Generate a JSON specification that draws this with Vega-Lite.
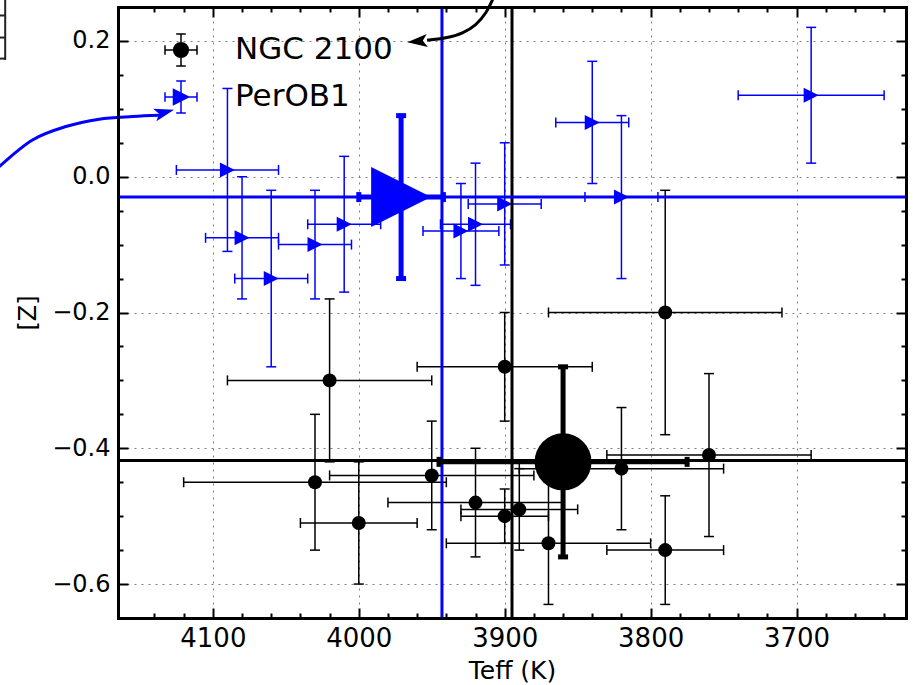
{
  "$schema": "https://vega.github.io/schema/vega-lite/v6.json",
  "width": 788,
  "height": 611,
  "autosize": "none",
  "padding": {"left": 118, "top": 7, "right": 7, "bottom": 67},
  "background": "white",
  "config": {
    "view": {"stroke": null},
    "font": "DejaVu Sans"
  },
  "datasets": {
    "stars": [
      {"set": "NGC 2100", "T": 4020, "Tlo": 3950, "Thi": 4090, "Z": -0.30, "Zlo": -0.42, "Zhi": -0.18},
      {"set": "NGC 2100", "T": 4030, "Tlo": 3940, "Thi": 4120, "Z": -0.45, "Zlo": -0.55, "Zhi": -0.35},
      {"set": "NGC 2100", "T": 4000, "Tlo": 3960, "Thi": 4040, "Z": -0.51, "Zlo": -0.60, "Zhi": -0.42},
      {"set": "NGC 2100", "T": 3950, "Tlo": 3880, "Thi": 4020, "Z": -0.44, "Zlo": -0.52, "Zhi": -0.36},
      {"set": "NGC 2100", "T": 3900, "Tlo": 3840, "Thi": 3960, "Z": -0.28, "Zlo": -0.36, "Zhi": -0.20},
      {"set": "NGC 2100", "T": 3920, "Tlo": 3860, "Thi": 3980, "Z": -0.48, "Zlo": -0.56, "Zhi": -0.40},
      {"set": "NGC 2100", "T": 3900, "Tlo": 3870, "Thi": 3930, "Z": -0.50, "Zlo": -0.54, "Zhi": -0.46},
      {"set": "NGC 2100", "T": 3890, "Tlo": 3850, "Thi": 3930, "Z": -0.49, "Zlo": -0.55, "Zhi": -0.43},
      {"set": "NGC 2100", "T": 3870, "Tlo": 3800, "Thi": 3940, "Z": -0.54, "Zlo": -0.63, "Zhi": -0.45},
      {"set": "NGC 2100", "T": 3820, "Tlo": 3750, "Thi": 3890, "Z": -0.43, "Zlo": -0.52, "Zhi": -0.34},
      {"set": "NGC 2100", "T": 3790, "Tlo": 3710, "Thi": 3870, "Z": -0.20, "Zlo": -0.38, "Zhi": -0.02},
      {"set": "NGC 2100", "T": 3760, "Tlo": 3690, "Thi": 3830, "Z": -0.41, "Zlo": -0.53, "Zhi": -0.29},
      {"set": "NGC 2100", "T": 3790, "Tlo": 3750, "Thi": 3830, "Z": -0.55, "Zlo": -0.63, "Zhi": -0.47},
      {"set": "PerOB1", "T": 4090, "Tlo": 4055, "Thi": 4125, "Z": 0.01, "Zlo": -0.11, "Zhi": 0.13},
      {"set": "PerOB1", "T": 4080, "Tlo": 4055, "Thi": 4105, "Z": -0.09, "Zlo": -0.18, "Zhi": 0.00},
      {"set": "PerOB1", "T": 4060, "Tlo": 4035, "Thi": 4085, "Z": -0.15, "Zlo": -0.28, "Zhi": -0.02},
      {"set": "PerOB1", "T": 4030, "Tlo": 4005, "Thi": 4055, "Z": -0.10, "Zlo": -0.18, "Zhi": -0.02},
      {"set": "PerOB1", "T": 4010, "Tlo": 3985, "Thi": 4035, "Z": -0.07, "Zlo": -0.17, "Zhi": 0.03},
      {"set": "PerOB1", "T": 3930, "Tlo": 3904, "Thi": 3956, "Z": -0.08, "Zlo": -0.15, "Zhi": -0.01},
      {"set": "PerOB1", "T": 3920, "Tlo": 3896, "Thi": 3944, "Z": -0.07, "Zlo": -0.16, "Zhi": 0.02},
      {"set": "PerOB1", "T": 3900, "Tlo": 3875, "Thi": 3925, "Z": -0.04, "Zlo": -0.13, "Zhi": 0.05},
      {"set": "PerOB1", "T": 3840, "Tlo": 3815, "Thi": 3865, "Z": 0.08, "Zlo": -0.01, "Zhi": 0.17},
      {"set": "PerOB1", "T": 3820, "Tlo": 3795, "Thi": 3845, "Z": -0.03, "Zlo": -0.15, "Zhi": 0.09},
      {"set": "PerOB1", "T": 3690, "Tlo": 3640, "Thi": 3740, "Z": 0.12, "Zlo": 0.02, "Zhi": 0.22}
    ],
    "means": [
      {"set": "NGC 2100", "T": 3860, "Tlo": 3775, "Thi": 3945, "Z": -0.42, "Zlo": -0.56, "Zhi": -0.28},
      {"set": "PerOB1", "T": 3971, "Tlo": 3942, "Thi": 4000, "Z": -0.03, "Zlo": -0.15, "Zhi": 0.09}
    ],
    "guides": [
      {"set": "NGC 2100", "T": 3895, "Z": -0.418},
      {"set": "PerOB1", "T": 3943, "Z": -0.03}
    ],
    "arrows": [
      {"set": "PerOB1", "i": 0, "T": 4246.4, "Z": 0.0148},
      {"set": "PerOB1", "i": 1, "T": 4223.6, "Z": 0.0542},
      {"set": "PerOB1", "i": 2, "T": 4200.7, "Z": 0.0739},
      {"set": "PerOB1", "i": 3, "T": 4177.9, "Z": 0.0848},
      {"set": "PerOB1", "i": 4, "T": 4155.1, "Z": 0.0887},
      {"set": "PerOB1", "i": 5, "T": 4136.8, "Z": 0.0905},
      {"set": "NGC 2100", "i": 0, "T": 3907.3, "Z": 0.2656},
      {"set": "NGC 2100", "i": 1, "T": 3913.0, "Z": 0.2415},
      {"set": "NGC 2100", "i": 2, "T": 3919.9, "Z": 0.2242},
      {"set": "NGC 2100", "i": 3, "T": 3929.0, "Z": 0.2120},
      {"set": "NGC 2100", "i": 4, "T": 3940.4, "Z": 0.2046},
      {"set": "NGC 2100", "i": 5, "T": 3953.2, "Z": 0.2010}
    ],
    "heads": [
      {"set": "PerOB1", "T": 4133.2, "Z": 0.0948},
      {"set": "NGC 2100", "T": 3959.9, "Z": 0.1994}
    ],
    "box": [
      {"T": 4242.3, "T2": 4242.3, "Z": 0.2700, "Z2": 0.1720},
      {"T": 4260.0, "T2": 4242.3, "Z": 0.2375, "Z2": 0.2375},
      {"T": 4260.0, "T2": 4242.3, "Z": 0.2050, "Z2": 0.2050},
      {"T": 4260.0, "T2": 4242.3, "Z": 0.1740, "Z2": 0.1740}
    ],
    "keys": [
      {"set": "NGC 2100", "T": 5000, "Z": 5},
      {"set": "PerOB1", "T": 5000, "Z": 5}
    ]
  },
  "resolve": {"axis": {"x": "independent", "y": "independent"}},
  "layer": [
    {
      "data": {"name": "stars"},
      "mark": {"type": "rule", "strokeWidth": 1.5},
      "encoding": {
        "x": {"field": "Tlo", "type": "quantitative",
              "scale": {"domain": [3625, 4165], "reverse": true, "nice": false, "zero": false},
              "axis": {"orient": "bottom", "values": [4100, 4000, 3900, 3800, 3700], "format": "d",
                       "grid": true, "gridColor": "#7f7f7f", "gridDash": [2, 5], "gridWidth": 1,
                       "ticks": false, "domain": false,
                       "labelFont": "DejaVu Sans", "labelFontSize": 26, "labelColor": "#000000", "labelPadding": 7,
                       "title": "Teff (K)", "titleFont": "DejaVu Sans", "titleFontSize": 25, "titleFontWeight": "normal",
                       "titleColor": "#000000", "titleY": 60, "titleBaseline": "alphabetic", "zindex": 0}},
        "x2": {"field": "Thi"},
        "y": {"field": "Z", "type": "quantitative",
              "scale": {"domain": [-0.65, 0.25], "nice": false, "zero": false},
              "axis": {"orient": "left", "values": [-0.6, -0.4, -0.2, 0, 0.2], "format": ".1f",
                       "grid": true, "gridColor": "#7f7f7f", "gridDash": [2, 5], "gridWidth": 1,
                       "ticks": false, "domain": false,
                       "labelFont": "DejaVu Sans", "labelFontSize": 24, "labelColor": "#000000", "labelPadding": 8,
                       "title": "[Z]", "titleFont": "DejaVu Sans", "titleFontSize": 24, "titleFontWeight": "normal",
                       "titleColor": "#000000", "titleX": -83, "titleY": 305.5, "titleBaseline": "alphabetic", "zindex": 0}},
        "color": {"condition": {"test": "datum.set === 'PerOB1'", "value": "#0000ff"}, "value": "#000000"}
      }
    },
    {
      "data": {"name": "stars"},
      "mark": {"type": "rule", "strokeWidth": 1.5},
      "encoding": {
        "x": {"field": "T", "type": "quantitative",
              "scale": {"domain": [3625, 4165], "reverse": true, "nice": false, "zero": false},
              "axis": {"orient": "bottom", "values": [4100, 4000, 3900, 3800, 3700], "grid": false, "labels": false,
                       "ticks": true, "tickSize": -10, "tickWidth": 2, "tickColor": "#000000",
                       "domain": true, "domainColor": "#000000", "domainWidth": 3, "domainCap": "square",
                       "title": null, "zindex": 1}},
        "y": {"field": "Zlo", "type": "quantitative",
              "scale": {"domain": [-0.65, 0.25], "nice": false, "zero": false},
              "axis": {"orient": "left", "values": [-0.6, -0.4, -0.2, 0, 0.2], "grid": false, "labels": false,
                       "ticks": true, "tickSize": -10, "tickWidth": 2, "tickColor": "#000000",
                       "domain": true, "domainColor": "#000000", "domainWidth": 3, "domainCap": "square",
                       "title": null, "zindex": 1}},
        "y2": {"field": "Zhi"},
        "color": {"condition": {"test": "datum.set === 'PerOB1'", "value": "#0000ff"}, "value": "#000000"}
      }
    },
    {
      "data": {"name": "stars"},
      "transform": [{"fold": ["Tlo", "Thi"], "as": ["end", "Tend"]}],
      "mark": {"type": "tick", "orient": "vertical", "size": 10, "thickness": 1.5, "opacity": 1},
      "encoding": {
        "x": {"field": "Tend", "type": "quantitative",
              "scale": {"domain": [3625, 4165], "reverse": true, "nice": false, "zero": false},
              "axis": {"orient": "bottom",
                       "values": [4140, 4120, 4080, 4060, 4040, 4020, 3980, 3960, 3940, 3920, 3880, 3860, 3840, 3820, 3780, 3760, 3740, 3720, 3680, 3660, 3640],
                       "grid": false, "labels": false, "ticks": true, "tickSize": -5, "tickWidth": 2, "tickColor": "#000000",
                       "domain": false, "title": null, "zindex": 1}},
        "y": {"field": "Z", "type": "quantitative",
              "scale": {"domain": [-0.65, 0.25], "nice": false, "zero": false},
              "axis": {"orient": "left",
                       "values": [-0.55, -0.5, -0.45, -0.35, -0.3, -0.25, -0.15, -0.1, -0.05, 0.05, 0.1, 0.15],
                       "grid": false, "labels": false, "ticks": true, "tickSize": -5, "tickWidth": 2, "tickColor": "#000000",
                       "domain": false, "title": null, "zindex": 1}},
        "color": {"condition": {"test": "datum.set === 'PerOB1'", "value": "#0000ff"}, "value": "#000000"}
      }
    },
    {
      "data": {"name": "stars"},
      "transform": [{"fold": ["Zlo", "Zhi"], "as": ["end", "Zend"]}],
      "mark": {"type": "tick", "orient": "horizontal", "size": 10, "thickness": 1.5, "opacity": 1},
      "encoding": {
        "x": {"field": "T", "type": "quantitative",
              "scale": {"domain": [3625, 4165], "reverse": true, "nice": false, "zero": false},
              "axis": {"orient": "top", "values": [4100, 4000, 3900, 3800, 3700], "grid": false, "labels": false,
                       "ticks": true, "tickSize": -10, "tickWidth": 2, "tickColor": "#000000",
                       "domain": true, "domainColor": "#000000", "domainWidth": 3, "domainCap": "square",
                       "title": null, "zindex": 1}},
        "y": {"field": "Zend", "type": "quantitative",
              "scale": {"domain": [-0.65, 0.25], "nice": false, "zero": false},
              "axis": {"orient": "right", "values": [-0.6, -0.4, -0.2, 0, 0.2], "grid": false, "labels": false,
                       "ticks": true, "tickSize": -10, "tickWidth": 2, "tickColor": "#000000",
                       "domain": true, "domainColor": "#000000", "domainWidth": 3, "domainCap": "square",
                       "title": null, "zindex": 1}},
        "color": {"condition": {"test": "datum.set === 'PerOB1'", "value": "#0000ff"}, "value": "#000000"}
      }
    },
    {
      "data": {"name": "stars"},
      "transform": [{"filter": {"field": "set", "equal": "NGC 2100"}}],
      "mark": {"type": "point", "shape": "circle", "filled": true, "size": 196, "opacity": 1, "strokeWidth": 0, "color": "#000000"},
      "encoding": {
        "x": {"field": "T", "type": "quantitative",
              "scale": {"domain": [3625, 4165], "reverse": true, "nice": false, "zero": false},
              "axis": {"orient": "top",
                       "values": [4140, 4120, 4080, 4060, 4040, 4020, 3980, 3960, 3940, 3920, 3880, 3860, 3840, 3820, 3780, 3760, 3740, 3720, 3680, 3660, 3640],
                       "grid": false, "labels": false, "ticks": true, "tickSize": -5, "tickWidth": 2, "tickColor": "#000000",
                       "domain": false, "title": null, "zindex": 1}},
        "y": {"field": "Z", "type": "quantitative",
              "scale": {"domain": [-0.65, 0.25], "nice": false, "zero": false},
              "axis": {"orient": "right",
                       "values": [-0.55, -0.5, -0.45, -0.35, -0.3, -0.25, -0.15, -0.1, -0.05, 0.05, 0.1, 0.15],
                       "grid": false, "labels": false, "ticks": true, "tickSize": -5, "tickWidth": 2, "tickColor": "#000000",
                       "domain": false, "title": null, "zindex": 1}}
      }
    },
    {
      "data": {"name": "stars"},
      "transform": [{"filter": {"field": "set", "equal": "PerOB1"}}],
      "mark": {"type": "point", "shape": "M1,0L-1,-1L-1,1Z", "filled": true, "size": 225, "opacity": 1, "strokeWidth": 0, "color": "#0000ff"},
      "encoding": {
        "x": {"field": "T", "type": "quantitative", "scale": {"domain": [3625, 4165], "reverse": true, "nice": false, "zero": false}, "axis": null},
        "y": {"field": "Z", "type": "quantitative", "scale": {"domain": [-0.65, 0.25], "nice": false, "zero": false}, "axis": null}
      }
    },
    {
      "data": {"name": "guides"},
      "mark": {"type": "rule", "strokeWidth": 3},
      "encoding": {
        "x": {"field": "T", "type": "quantitative", "scale": {"domain": [3625, 4165], "reverse": true, "nice": false, "zero": false}, "axis": null},
        "color": {"condition": {"test": "datum.set === 'PerOB1'", "value": "#0000ff"}, "value": "#000000"}
      }
    },
    {
      "data": {"name": "guides"},
      "mark": {"type": "rule", "strokeWidth": 3},
      "encoding": {
        "y": {"field": "Z", "type": "quantitative", "scale": {"domain": [-0.65, 0.25], "nice": false, "zero": false}, "axis": null},
        "color": {"condition": {"test": "datum.set === 'PerOB1'", "value": "#0000ff"}, "value": "#000000"}
      }
    },
    {
      "data": {"name": "means"},
      "mark": {"type": "rule", "strokeWidth": 5},
      "encoding": {
        "x": {"field": "Tlo", "type": "quantitative", "scale": {"domain": [3625, 4165], "reverse": true, "nice": false, "zero": false}, "axis": null},
        "x2": {"field": "Thi"},
        "y": {"field": "Z", "type": "quantitative", "scale": {"domain": [-0.65, 0.25], "nice": false, "zero": false}, "axis": null},
        "color": {"condition": {"test": "datum.set === 'PerOB1'", "value": "#0000ff"}, "value": "#000000"}
      }
    },
    {
      "data": {"name": "means"},
      "mark": {"type": "rule", "strokeWidth": 5},
      "encoding": {
        "x": {"field": "T", "type": "quantitative", "scale": {"domain": [3625, 4165], "reverse": true, "nice": false, "zero": false}, "axis": null},
        "y": {"field": "Zlo", "type": "quantitative", "scale": {"domain": [-0.65, 0.25], "nice": false, "zero": false}, "axis": null},
        "y2": {"field": "Zhi"},
        "color": {"condition": {"test": "datum.set === 'PerOB1'", "value": "#0000ff"}, "value": "#000000"}
      }
    },
    {
      "data": {"name": "means"},
      "transform": [{"fold": ["Tlo", "Thi"], "as": ["end", "Tend"]}],
      "mark": {"type": "tick", "orient": "vertical", "size": 10, "thickness": 5, "opacity": 1},
      "encoding": {
        "x": {"field": "Tend", "type": "quantitative", "scale": {"domain": [3625, 4165], "reverse": true, "nice": false, "zero": false}, "axis": null},
        "y": {"field": "Z", "type": "quantitative", "scale": {"domain": [-0.65, 0.25], "nice": false, "zero": false}, "axis": null},
        "color": {"condition": {"test": "datum.set === 'PerOB1'", "value": "#0000ff"}, "value": "#000000"}
      }
    },
    {
      "data": {"name": "means"},
      "transform": [{"fold": ["Zlo", "Zhi"], "as": ["end", "Zend"]}],
      "mark": {"type": "tick", "orient": "horizontal", "size": 10, "thickness": 5, "opacity": 1},
      "encoding": {
        "x": {"field": "T", "type": "quantitative", "scale": {"domain": [3625, 4165], "reverse": true, "nice": false, "zero": false}, "axis": null},
        "y": {"field": "Zend", "type": "quantitative", "scale": {"domain": [-0.65, 0.25], "nice": false, "zero": false}, "axis": null},
        "color": {"condition": {"test": "datum.set === 'PerOB1'", "value": "#0000ff"}, "value": "#000000"}
      }
    },
    {
      "data": {"name": "means"},
      "transform": [{"filter": {"field": "set", "equal": "NGC 2100"}}],
      "mark": {"type": "point", "shape": "circle", "filled": true, "size": 3250, "opacity": 1, "strokeWidth": 0, "color": "#000000"},
      "encoding": {
        "x": {"field": "T", "type": "quantitative", "scale": {"domain": [3625, 4165], "reverse": true, "nice": false, "zero": false}, "axis": null},
        "y": {"field": "Z", "type": "quantitative", "scale": {"domain": [-0.65, 0.25], "nice": false, "zero": false}, "axis": null}
      }
    },
    {
      "data": {"name": "means"},
      "transform": [{"filter": {"field": "set", "equal": "PerOB1"}}],
      "mark": {"type": "point", "shape": "M1,0L-1,-1L-1,1Z", "filled": true, "size": 3600, "opacity": 1, "strokeWidth": 0, "color": "#0000ff"},
      "encoding": {
        "x": {"field": "T", "type": "quantitative", "scale": {"domain": [3625, 4165], "reverse": true, "nice": false, "zero": false}, "axis": null},
        "y": {"field": "Z", "type": "quantitative", "scale": {"domain": [-0.65, 0.25], "nice": false, "zero": false}, "axis": null}
      }
    },
    {
      "data": {"name": "arrows"},
      "mark": {"type": "line", "strokeWidth": 3, "interpolate": "cardinal", "clip": false},
      "encoding": {
        "x": {"field": "T", "type": "quantitative", "scale": {"domain": [3625, 4165], "reverse": true, "nice": false, "zero": false}, "axis": null},
        "y": {"field": "Z", "type": "quantitative", "scale": {"domain": [-0.65, 0.25], "nice": false, "zero": false}, "axis": null},
        "order": {"field": "i", "type": "quantitative"},
        "detail": {"field": "set", "type": "nominal"},
        "color": {"condition": {"test": "datum.set === 'PerOB1'", "value": "#0000ff"}, "value": "#000000"}
      }
    },
    {
      "data": {"name": "heads"},
      "transform": [{"filter": {"field": "set", "equal": "PerOB1"}}],
      "mark": {"type": "point", "shape": "M1,0L-1,-0.65L-0.55,0L-1,0.65Z", "filled": true, "size": 400, "angle": -15, "opacity": 1, "strokeWidth": 0, "clip": false, "color": "#0000ff"},
      "encoding": {
        "x": {"field": "T", "type": "quantitative", "scale": {"domain": [3625, 4165], "reverse": true, "nice": false, "zero": false}, "axis": null},
        "y": {"field": "Z", "type": "quantitative", "scale": {"domain": [-0.65, 0.25], "nice": false, "zero": false}, "axis": null}
      }
    },
    {
      "data": {"name": "heads"},
      "transform": [{"filter": {"field": "set", "equal": "NGC 2100"}}],
      "mark": {"type": "point", "shape": "M1,0L-1,-0.65L-0.55,0L-1,0.65Z", "filled": true, "size": 400, "angle": 175, "opacity": 1, "strokeWidth": 0, "clip": false, "color": "#000000"},
      "encoding": {
        "x": {"field": "T", "type": "quantitative", "scale": {"domain": [3625, 4165], "reverse": true, "nice": false, "zero": false}, "axis": null},
        "y": {"field": "Z", "type": "quantitative", "scale": {"domain": [-0.65, 0.25], "nice": false, "zero": false}, "axis": null}
      }
    },
    {
      "data": {"name": "box"},
      "mark": {"type": "rule", "strokeWidth": 2, "color": "#222222", "clip": false},
      "encoding": {
        "x": {"field": "T", "type": "quantitative", "scale": {"domain": [3625, 4165], "reverse": true, "nice": false, "zero": false}, "axis": null},
        "x2": {"field": "T2"},
        "y": {"field": "Z", "type": "quantitative", "scale": {"domain": [-0.65, 0.25], "nice": false, "zero": false}, "axis": null},
        "y2": {"field": "Z2"}
      }
    },
    {
      "data": {"name": "keys"},
      "mark": {"type": "point", "filled": true, "opacity": 1, "clip": true},
      "encoding": {
        "x": {"field": "T", "type": "quantitative", "scale": {"domain": [3625, 4165], "reverse": true, "nice": false, "zero": false}, "axis": null},
        "y": {"field": "Z", "type": "quantitative", "scale": {"domain": [-0.65, 0.25], "nice": false, "zero": false}, "axis": null},
        "fill": {"field": "set", "type": "nominal",
                 "scale": {"domain": ["NGC 2100", "PerOB1"], "range": ["#000000", "#0000ff"]},
                 "legend": {"title": null, "orient": "none", "legendX": 46, "legendY": 26, "padding": 0,
                            "symbolSize": 1024, "symbolStrokeWidth": 1.5,
                            "labelFont": "DejaVu Sans", "labelFontSize": 31, "labelColor": "#000000",
                            "labelOffset": 37, "rowPadding": 9, "labelLimit": 400}},
        "stroke": {"field": "set", "type": "nominal",
                   "scale": {"domain": ["NGC 2100", "PerOB1"], "range": ["#000000", "#0000ff"]},
                   "legend": {"title": null, "orient": "none", "legendX": 46, "legendY": 26, "padding": 0,
                              "symbolSize": 1024, "symbolStrokeWidth": 1.5,
                              "labelFont": "DejaVu Sans", "labelFontSize": 31, "labelColor": "#000000",
                              "labelOffset": 37, "rowPadding": 9, "labelLimit": 400}},
        "shape": {"field": "set", "type": "nominal",
                  "scale": {"domain": ["NGC 2100", "PerOB1"],
                            "range": ["M-1,0L1,0M0,-1L0,1M-1,-0.3L-1,0.3M1,-0.3L1,0.3M-0.3,-1L0.3,-1M-0.3,1L0.3,1M0.46,0A0.46,0.46,0,1,1,-0.46,0A0.46,0.46,0,1,1,0.46,0Z",
                                      "M-1,0L1,0M0,-1L0,1M-1,-0.3L-1,0.3M1,-0.3L1,0.3M-0.3,-1L0.3,-1M-0.3,1L0.3,1M0.47,0L-0.47,-0.47L-0.47,0.47Z"]},
                  "legend": {"title": null, "orient": "none", "legendX": 46, "legendY": 26, "padding": 0,
                             "symbolSize": 1024, "symbolStrokeWidth": 1.5,
                             "labelFont": "DejaVu Sans", "labelFontSize": 31, "labelColor": "#000000",
                             "labelOffset": 37, "rowPadding": 9, "labelLimit": 400}}
      }
    }
  ]
}
